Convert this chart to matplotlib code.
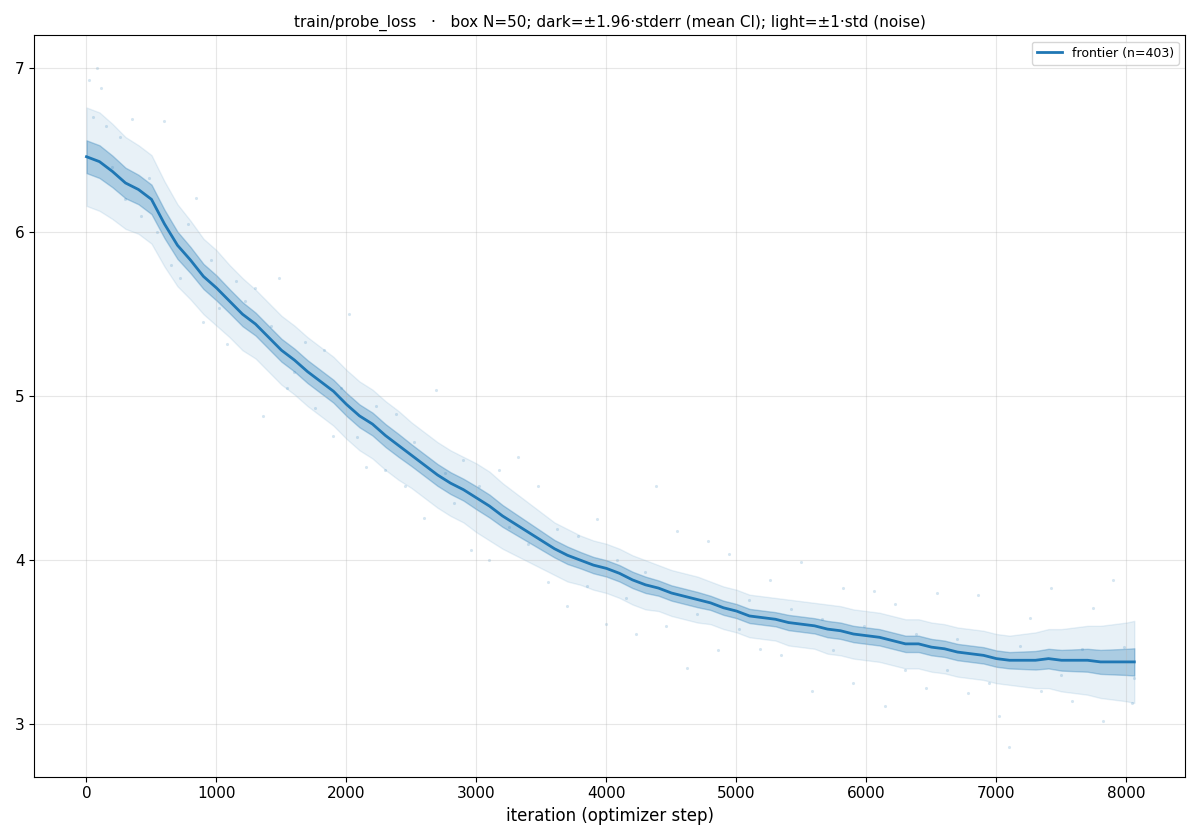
import numpy
import matplotlib
matplotlib.use('Agg')
import matplotlib.pyplot as plt

# smoothed curve (box N=50)
steps = [0, 100, 200, 300, 400, 500, 600, 700, 800, 900, 1000, 1100, 1200, 1300,
         1400, 1500, 1600, 1700, 1800, 1900, 2000, 2100, 2200, 2300, 2400, 2500,
         2600, 2700, 2800, 2900, 3000, 3100, 3200, 3300, 3400, 3500, 3600, 3700,
         3800, 3900, 4000, 4100, 4200, 4300, 4400, 4500, 4600, 4700, 4800, 4900,
         5000, 5100, 5200, 5300, 5400, 5500, 5600, 5700, 5800, 5900, 6000, 6100,
         6200, 6300, 6400, 6500, 6600, 6700, 6800, 6900, 7000, 7100, 7200, 7300,
         7400, 7500, 7600, 7700, 7800, 7900, 8000, 8060]
mean = [6.46, 6.43, 6.37, 6.30, 6.26, 6.20, 6.05, 5.92, 5.83, 5.73, 5.66, 5.58,
        5.50, 5.44, 5.36, 5.28, 5.22, 5.15, 5.09, 5.03, 4.95, 4.88, 4.83, 4.76,
        4.70, 4.64, 4.58, 4.52, 4.47, 4.43, 4.38, 4.33, 4.27, 4.22, 4.17, 4.12,
        4.07, 4.03, 4.00, 3.97, 3.95, 3.92, 3.88, 3.85, 3.83, 3.80, 3.78, 3.76,
        3.74, 3.71, 3.69, 3.66, 3.65, 3.64, 3.62, 3.61, 3.60, 3.58, 3.57, 3.55,
        3.54, 3.53, 3.51, 3.49, 3.49, 3.47, 3.46, 3.44, 3.43, 3.42, 3.40, 3.39,
        3.39, 3.39, 3.40, 3.39, 3.39, 3.39, 3.38, 3.38, 3.38, 3.38]
std = [0.30, 0.30, 0.29, 0.28, 0.27, 0.27, 0.26, 0.25, 0.24, 0.23, 0.23, 0.22,
       0.22, 0.21, 0.21, 0.21, 0.21, 0.21, 0.21, 0.21, 0.21, 0.21, 0.21, 0.21,
       0.21, 0.20, 0.20, 0.20, 0.20, 0.20, 0.21, 0.21, 0.20, 0.19, 0.18, 0.17,
       0.16, 0.16, 0.15, 0.15, 0.15, 0.15, 0.15, 0.15, 0.14, 0.14, 0.14, 0.14,
       0.13, 0.13, 0.13, 0.13, 0.13, 0.13, 0.14, 0.14, 0.14, 0.15, 0.15, 0.15,
       0.15, 0.15, 0.15, 0.15, 0.15, 0.15, 0.15, 0.15, 0.15, 0.15, 0.15, 0.15,
       0.16, 0.17, 0.18, 0.19, 0.20, 0.21, 0.22, 0.23, 0.24, 0.25]

# raw samples (subset)
raw_x = [20, 50, 80, 110, 150, 200, 260, 300, 350, 420, 480, 540, 600, 650, 720,
         780, 840, 900, 960, 1020, 1080, 1150, 1220, 1300, 1360, 1420, 1480, 1540,
         1600, 1680, 1760, 1830, 1900, 1960, 2020, 2080, 2150, 2230, 2300, 2380,
         2450, 2520, 2600, 2690, 2760, 2830, 2900, 2960, 3020, 3100, 3170, 3250,
         3320, 3400, 3470, 3550, 3620, 3700, 3780, 3850, 3930, 4000, 4080, 4150,
         4230, 4300, 4380, 4460, 4540, 4620, 4700, 4780, 4860, 4940, 5020, 5100,
         5180, 5260, 5340, 5420, 5500, 5580, 5660, 5740, 5820, 5900, 5980, 6060,
         6140, 6220, 6300, 6380, 6460, 6540, 6620, 6700, 6780, 6860, 6940, 7020,
         7100, 7180, 7260, 7340, 7420, 7500, 7580, 7660, 7740, 7820, 7900, 7980,
         8040, 8060]
raw_y = [6.93, 6.70, 7.00, 6.88, 6.65, 6.40, 6.58, 6.20, 6.69, 6.10, 6.33, 6.00,
         6.68, 5.80, 5.72, 6.05, 6.21, 5.45, 5.83, 5.54, 5.32, 5.70, 5.58, 5.66,
         4.88, 5.43, 5.72, 5.05, 5.15, 5.33, 4.93, 5.28, 4.76, 5.05, 5.50, 4.75,
         4.57, 4.94, 4.55, 4.89, 4.45, 4.72, 4.26, 5.04, 4.53, 4.35, 4.61, 4.06,
         4.45, 4.00, 4.55, 4.20, 4.63, 4.10, 4.45, 3.87, 4.19, 3.72, 4.15, 3.84,
         4.25, 3.61, 4.00, 3.77, 3.55, 3.93, 4.45, 3.60, 4.18, 3.34, 3.67, 4.12,
         3.45, 4.04, 3.58, 3.76, 3.46, 3.88, 3.42, 3.70, 3.99, 3.20, 3.64, 3.45,
         3.83, 3.25, 3.60, 3.81, 3.11, 3.73, 3.33, 3.55, 3.22, 3.80, 3.33, 3.52,
         3.19, 3.79, 3.25, 3.05, 2.86, 3.48, 3.65, 3.20, 3.83, 3.30, 3.14, 3.46,
         3.71, 3.02, 3.88, 3.47, 3.13, 3.28]

n_points = 403
color = '#1f77b4'

x = numpy.array(steps)
m = numpy.array(mean)
s = numpy.array(std)
ci = 1.96 * s / numpy.sqrt(50) * 1.2

figure, ax = plt.subplots(figsize=(12, 8.4), dpi=100)
ax.scatter(raw_x, raw_y, s=5, color=color, alpha=0.18, linewidths=0)
ax.fill_between(x, m - s, m + s, color=color, alpha=0.1)
ax.fill_between(x, m - ci, m + ci, color=color, alpha=0.3)
ax.plot(x, m, color=color, lw=2, label=f'frontier (n={n_points})')

ax.set_xlim(-400, 8450)
ax.set_ylim(2.68, 7.2)
ax.grid(True, alpha=0.3)
ax.set_xlabel('iteration (optimizer step)', fontsize=12)
ax.set_title('train/probe_loss   ·   box N=50; dark=±1.96·stderr (mean CI); light=±1·std (noise)',
             fontsize=11)
ax.tick_params(labelsize=11)
ax.legend(loc='upper right', fontsize=9)
figure.tight_layout()
figure.savefig('out.png')
